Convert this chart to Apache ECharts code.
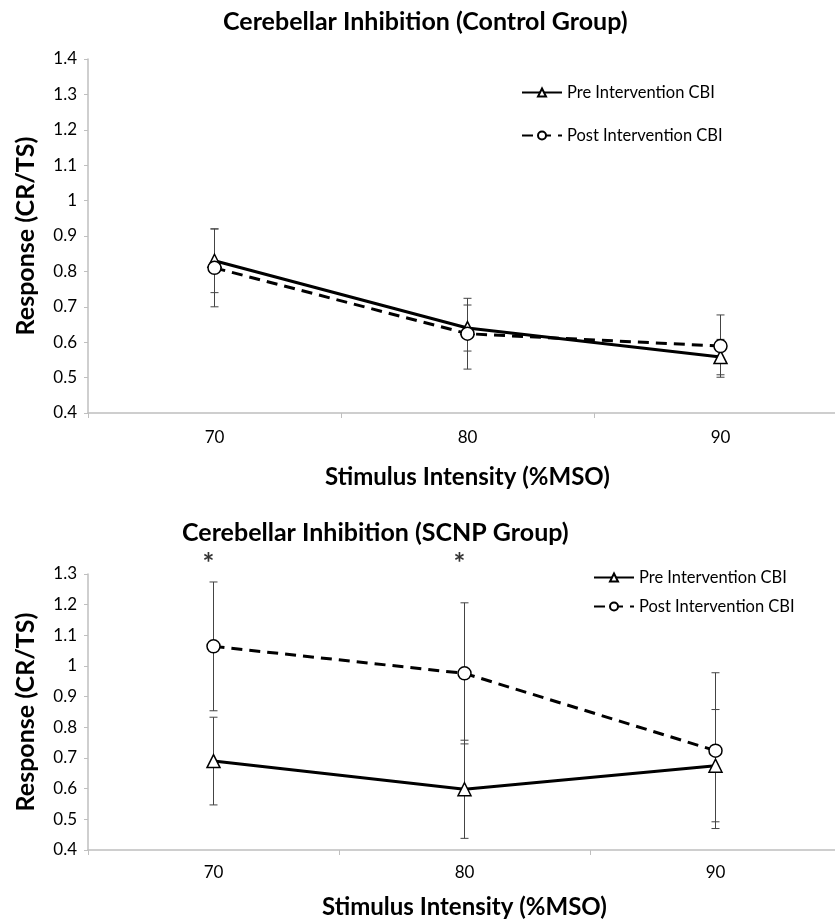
<!DOCTYPE html>
<html>
<head>
<meta charset="utf-8">
<script src="https://cdn.jsdelivr.net/npm/echarts@6/dist/echarts.min.js"></script>
<style>
  html, body { margin: 0; padding: 0; background: #fff; overflow: hidden; }
  /* the original plot area runs past the right edge of the picture */
  #chart { width: 850px; height: 920px; }
</style>
</head>
<body>
<div id="chart"></div>
<script>
// ---------- data ----------
var categories = ['70', '80', '90'];

// control group
var ctrlPre = [0.83, 0.64, 0.558];
var ctrlPreErr = [0.09, 0.065, 0.05];
var ctrlPost = [0.81, 0.624, 0.589];
var ctrlPostErr = [0.11, 0.10, 0.088];

// SCNP group
var scnpPre = [0.69, 0.598, 0.675];
var scnpPreErr = [0.143, 0.16, 0.183];
var scnpPost = [1.064, 0.976, 0.724];
var scnpPostErr = [0.21, 0.23, 0.254];

// significance markers (SCNP group)
var starCats = ['70', '80'];
var starLevel = 1.345;

var FONT = 'Lato, "Liberation Sans", sans-serif';

function errData(means, errs) {
	return means.map(function(m, i) {
		return [i, m - errs[i], m + errs[i]];
	});
}

function renderErr(params, api) {
	var i = api.value(0);
	var lo = api.coord([i, api.value(1)]);
	var hi = api.coord([i, api.value(2)]);
	var w = 4;
	var style = { stroke: '#444', lineWidth: 1 };
	return {
		type : 'group',
		children : [
			{ type : 'line', shape : { x1 : lo[0], y1 : lo[1], x2 : hi[0], y2 : hi[1] }, style : style },
			{ type : 'line', shape : { x1 : hi[0] - w, y1 : hi[1], x2 : hi[0] + w, y2 : hi[1] }, style : style },
			{ type : 'line', shape : { x1 : lo[0] - w, y1 : lo[1], x2 : lo[0] + w, y2 : lo[1] }, style : style }
		]
	};
}

function xAxisCfg(gridIndex, labelMargin, nameGap) {
	return {
		type : 'category',
		gridIndex : gridIndex,
		data : categories,
		boundaryGap : true,
		axisLine : { lineStyle : { color : '#bfbfbf', width : 1.5 } },
		axisTick : { show : true, length : 5, lineStyle : { color : '#bfbfbf' } },
		axisLabel : { margin : labelMargin, color : '#000', fontSize : 17, fontFamily : FONT },
		name : 'Stimulus Intensity (%MSO)',
		nameLocation : 'middle',
		nameGap : nameGap,
		nameTextStyle : { color : '#000', fontSize : 24, fontWeight : 'bold', fontFamily : FONT }
	};
}

function yAxisCfg(gridIndex, min, max) {
	return {
		type : 'value',
		gridIndex : gridIndex,
		min : min,
		max : max,
		interval : 0.1,
		axisLine : { show : true, lineStyle : { color : '#bfbfbf', width : 1.5 } },
		axisTick : { show : true, length : 4, lineStyle : { color : '#bfbfbf' } },
		splitLine : { show : false },
		axisLabel : { margin : 11, color : '#000', fontSize : 17, fontFamily : FONT },
		name : 'Response (CR/TS)',
		nameLocation : 'middle',
		nameRotate : 90,
		nameGap : 50,
		nameTextStyle : { color : '#000', fontSize : 25, fontWeight : 'bold', fontFamily : FONT }
	};
}

function preSeries(idx, data) {
	return {
		name : 'Pre Intervention CBI',
		type : 'line',
		xAxisIndex : idx,
		yAxisIndex : idx,
		data : data,
		symbol : 'triangle',
		symbolSize : 13,
		z : 3,
		lineStyle : { color : '#000', width : 3 },
		itemStyle : { color : '#fff', borderColor : '#000', borderWidth : 1.5 },
		emphasis : { disabled : true }
	};
}

function postSeries(idx, data) {
	return {
		name : 'Post Intervention CBI',
		type : 'line',
		xAxisIndex : idx,
		yAxisIndex : idx,
		data : data,
		symbol : 'circle',
		symbolSize : 13,
		z : 4,
		lineStyle : { color : '#000', width : 3, type : [11, 7] },
		itemStyle : { color : '#fff', borderColor : '#000', borderWidth : 1.5 },
		emphasis : { disabled : true }
	};
}

function errSeries(idx, means, errs) {
	return {
		type : 'custom',
		xAxisIndex : idx,
		yAxisIndex : idx,
		data : errData(means, errs),
		renderItem : renderErr,
		z : 2,
		silent : true
	};
}

var legendText = { color : '#000', fontSize : 16.5, fontFamily : FONT };

var chart = echarts.init(document.getElementById('chart'));
chart.setOption({
	animation : false,
	backgroundColor : '#fff',
	title : [ {
		text : 'Cerebellar Inhibition (Control Group)',
		left : 218,
		top : 4,
		textStyle : { color : '#000', fontSize : 25, fontWeight : 'bold', fontFamily : FONT }
	}, {
		text : 'Cerebellar Inhibition (SCNP Group)',
		left : 177,
		top : 515,
		textStyle : { color : '#000', fontSize : 25, fontWeight : 'bold', fontFamily : FONT }
	} ],
	legend : [ {
		orient : 'vertical',
		left : 521,
		top : 84,
		padding : 0,
		itemWidth : 40,
		itemHeight : 10,
		itemGap : 26,
		selectedMode : false,
		textStyle : legendText,
		data : [ 'Pre Intervention CBI', 'Post Intervention CBI' ]
	}, {
		orient : 'vertical',
		left : 593,
		top : 569,
		padding : 0,
		itemWidth : 40,
		itemHeight : 10,
		itemGap : 12,
		selectedMode : false,
		textStyle : legendText,
		data : [ 'Pre Intervention CBI', 'Post Intervention CBI' ]
	} ],
	grid : [
		{ left : 88, top : 59, width : 759, height : 354 },
		{ left : 88, top : 574, width : 753, height : 276 }
	],
	xAxis : [ xAxisCfg(0, 16, 52), xAxisCfg(1, 14, 45) ],
	yAxis : [ yAxisCfg(0, 0.4, 1.4), yAxisCfg(1, 0.4, 1.3) ],
	series : [
		errSeries(0, ctrlPre, ctrlPreErr),
		errSeries(0, ctrlPost, ctrlPostErr),
		preSeries(0, ctrlPre),
		postSeries(0, ctrlPost),
		errSeries(1, scnpPre, scnpPreErr),
		errSeries(1, scnpPost, scnpPostErr),
		preSeries(1, scnpPre),
		postSeries(1, scnpPost),
		{
			type : 'scatter',
			xAxisIndex : 1,
			yAxisIndex : 1,
			clip : false,
			silent : true,
			symbolSize : 2,
			itemStyle : { color : 'rgba(0,0,0,0)' },
			data : starCats.map(function(c) { return [c, starLevel]; }),
			label : {
				show : true,
				position : 'inside',
				offset : [-5, 4],
				formatter : '*',
				color : '#000',
				fontSize : 28,
				fontWeight : 'bold',
				fontFamily : FONT
			}
		}
	]
});
</script>
</body>
</html>
